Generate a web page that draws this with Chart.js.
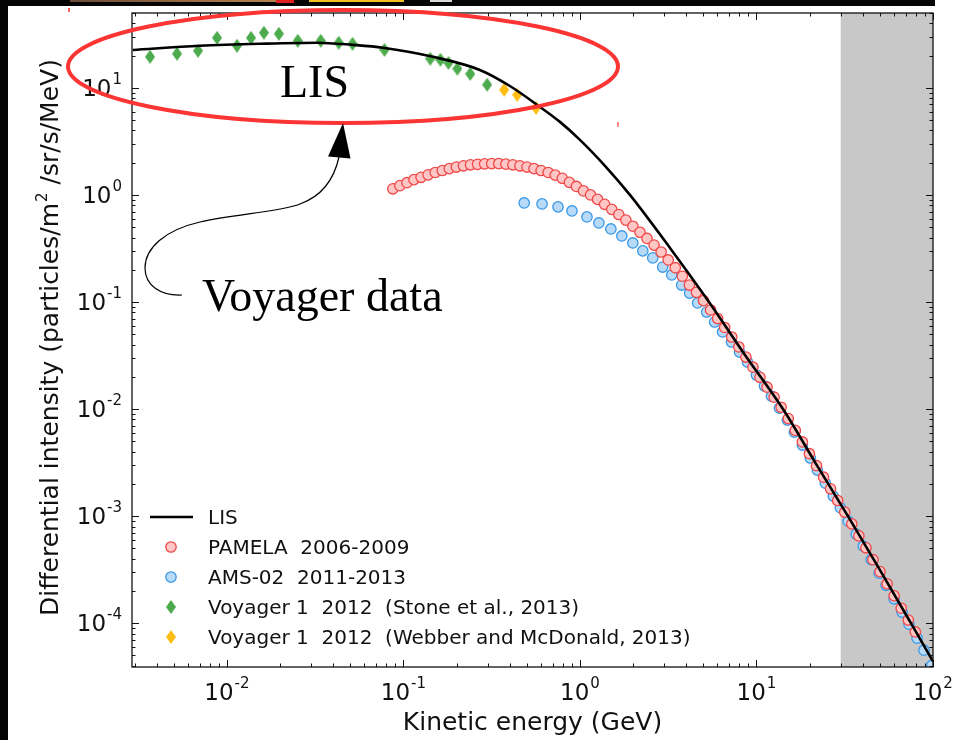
<!DOCTYPE html>
<html>
<head>
<meta charset="utf-8">
<script src="https://cdn.jsdelivr.net/npm/chart.js@4.4.1/dist/chart.umd.min.js"></script>
<style>
html, body { margin: 0; padding: 0; background: #fff; }
#wrap { width: 961px; height: 740px; position: relative; }
</style>
</head>
<body>
<div id="wrap"><canvas id="fluxChart" width="961" height="740"></canvas></div>
<script>
// colours
const _RED_EDGE = '#f04848';
const _RED_FILL = '#ffc6c6';
const _BLUE_EDGE = '#3a98e6';
const _BLUE_FILL = '#b6daf7';
const _GREEN = '#4cab4c';
const _YELLOW = '#fdbd12';
const SANS = '"DejaVu Sans", sans-serif';
const SERIF = '"Liberation Serif", serif';

// LIS model curve (GeV, particles/m2/sr/s/MeV)
const lisEnergy = [0.00293, 0.00703, 0.0154, 0.0324, 0.0517, 0.0766, 0.147, 0.271, 0.401, 0.593,
    0.770, 1.0, 1.386, 1.919, 3.236, 5.383, 8.61, 14.13, 21.44, 32.98,
    50.1, 75.0, 100];
const lisFlux = [22.6, 24.7, 25.8, 26.4, 25.2, 23.7, 19.5, 14.7, 10.4, 6.64,
    4.81, 3.27, 1.87, 1.00, 0.320, 0.100, 0.0320, 0.0100, 0.00320, 0.00100,
    0.000313, 0.000100, 0.0000441];

// PAMELA 2006-2009
const pamelaEnergy = [0.0871, 0.0955, 0.1047, 0.1148, 0.1259, 0.1380, 0.1514, 0.1660, 0.1820, 0.1995,
    0.2188, 0.2399, 0.2630, 0.2884, 0.3162, 0.3467, 0.3802, 0.4169, 0.4571, 0.5012,
    0.5495, 0.6026, 0.6607, 0.7244, 0.7943, 0.8710, 0.9550, 1.047, 1.148, 1.259,
    1.380, 1.514, 1.660, 1.820, 1.995, 2.188, 2.399, 2.630, 2.884, 3.162,
    3.467, 3.802, 4.169, 4.571, 5.012, 5.495, 6.026, 6.607, 7.244, 7.943,
    8.710, 9.550, 10.47, 11.48, 12.59, 13.80, 15.14, 16.60, 18.20, 19.95,
    21.88, 23.99, 26.30, 28.84, 31.62, 34.67, 38.02, 41.69, 45.71, 50.12,
    54.95, 60.26, 66.07, 72.44, 79.43];
const pamelaFlux = [1.14, 1.22, 1.30, 1.39, 1.46, 1.54, 1.62, 1.69, 1.76, 1.82,
    1.87, 1.91, 1.93, 1.95, 1.96, 1.96, 1.94, 1.91, 1.87, 1.82,
    1.76, 1.69, 1.62, 1.53, 1.43, 1.31, 1.20, 1.09, 1.00, 0.908,
    0.817, 0.733, 0.656, 0.582, 0.510, 0.448, 0.392, 0.340, 0.293, 0.247,
    0.209, 0.174, 0.144, 0.123, 0.103, 0.0842, 0.0701, 0.0578, 0.0471, 0.0380,
    0.0306, 0.0246, 0.0198, 0.0160, 0.0129, 0.0104, 0.00815, 0.00632, 0.00493, 0.00383,
    0.00296, 0.00231, 0.00180, 0.00140, 0.00109, 0.000847, 0.000654, 0.000506, 0.000392, 0.000303,
    0.000233, 0.000180, 0.000138, 0.000107, 0.0000829];

// AMS-02 2011-2013
const amsEnergy = [0.483, 0.610, 0.751, 0.901, 1.096, 1.280, 1.497, 1.727, 1.992, 2.270,
    2.584, 2.942, 3.311, 3.770, 4.182, 4.641, 5.220, 5.792, 6.427, 7.225,
    8.017, 8.896, 10.0, 11.10, 12.16, 13.49, 14.97, 16.40, 18.20, 20.19,
    22.13, 24.55, 27.23, 29.84, 33.11, 36.73, 40.25, 44.67, 49.55, 54.2,
    60.2, 66.8, 73.1, 81.3, 88.9, 98.7];
const amsFlux = [0.841, 0.824, 0.773, 0.708, 0.623, 0.547, 0.481, 0.414, 0.356, 0.300,
    0.258, 0.212, 0.179, 0.144, 0.121, 0.0979, 0.0806, 0.0650, 0.0525, 0.0423,
    0.0341, 0.0275, 0.0208, 0.0164, 0.0132, 0.0102, 0.00789, 0.00609, 0.00461, 0.00349,
    0.00269, 0.00203, 0.00154, 0.00120, 0.000897, 0.000679, 0.000525, 0.000392, 0.000293, 0.000226,
    0.000169, 0.000127, 0.0000979, 0.0000724, 0.0000560, 0.0000405];

// Voyager 1 2012
const stoneEnergy = [0.00367, 0.00522, 0.00686, 0.00879, 0.0114, 0.0137, 0.0162, 0.0197, 0.0252, 0.0340,
    0.0430, 0.0515, 0.0781, 0.142, 0.162, 0.180, 0.202, 0.239, 0.298];
const stoneFlux = [19.5, 20.8, 22.2, 29.3, 24.7, 29.3, 32.7, 32.0, 27.5, 27.5,
    26.4, 25.8, 22.6, 18.7, 18.3, 17.1, 15.1, 13.5, 10.7];
const webberEnergy = [0.372, 0.441, 0.564];
const webberFlux = [9.58, 8.60, 6.50];

// axis settings
const xRange = [0.0029, 100];
const yRange = [3.9e-5, 50];
const xTickExponents = [-2, -1, 0, 1, 2];
const yTickExponents = [-4, -3, -2, -1, 0, 1];
const shadeRange = [30, 100];

function toPoints(xs, ys) {
    return xs.map((x, i) => ({ x: x, y: ys[i] }));
}

// thin diamond marker, drawn once to a small canvas
function makeDiamond(color) {
    const c = document.createElement('canvas');
    c.width = 10;
    c.height = 14;
    const g = c.getContext('2d');
    g.fillStyle = color;
    g.beginPath();
    g.moveTo(5, 0);
    g.lineTo(10, 7);
    g.lineTo(5, 14);
    g.lineTo(0, 7);
    g.closePath();
    g.fill();
    return c;
}
const greenDiamond = makeDiamond(_GREEN);
const yellowDiamond = makeDiamond(_YELLOW);

function powerLabel(ctx, exp, x, y, align) {
    const base = '10';
    const sup = String(exp);
    ctx.font = '23px ' + SANS;
    const wb = ctx.measureText(base).width;
    ctx.font = '15px ' + SANS;
    const ws = ctx.measureText(sup).width;
    const total = wb + ws + 1;
    const left = align === 'right' ? x - total : x - total / 2;
    ctx.textAlign = 'left';
    ctx.textBaseline = 'alphabetic';
    ctx.font = '23px ' + SANS;
    ctx.fillText(base, left, y);
    ctx.font = '15px ' + SANS;
    ctx.fillText(sup, left + wb + 1, y - 12);
}

function seg(ctx, x1, y1, x2, y2) {
    ctx.beginPath();
    ctx.moveTo(x1, y1);
    ctx.lineTo(x2, y2);
    ctx.stroke();
}

const decorPlugin = {
    id: 'decor',
    beforeDraw(chart) {
        const ctx = chart.ctx;
        ctx.save();
        ctx.fillStyle = '#fff';
        ctx.fillRect(0, 0, chart.width, chart.height);
        // slide edges around the figure
        ctx.fillStyle = '#050505';
        ctx.fillRect(0, 0, 935, 6);
        ctx.fillRect(0, 0, 8, chart.height);
        const grad = ctx.createLinearGradient(70, 0, 280, 0);
        grad.addColorStop(0, '#6b4a36');
        grad.addColorStop(1, '#b8844e');
        ctx.fillStyle = grad;
        ctx.fillRect(70, 0, 206, 2);
        ctx.fillStyle = '#e02020';
        ctx.fillRect(276, 0, 18, 3);
        ctx.fillStyle = '#f0c020';
        ctx.fillRect(309, 0, 95, 2);
        ctx.fillStyle = '#d8d8d8';
        ctx.fillRect(430, 0, 22, 2);
        ctx.fillStyle = '#ff6060';
        ctx.fillRect(68, 8, 2, 4);
        ctx.restore();
    },
    beforeDatasetsDraw(chart) {
        const ctx = chart.ctx;
        const a = chart.chartArea;
        const xs = chart.scales.x;
        const x0 = xs.getPixelForValue(shadeRange[0]);
        const x1 = xs.getPixelForValue(shadeRange[1]);
        ctx.save();
        ctx.fillStyle = '#c8c8c8';
        ctx.fillRect(x0, a.top, x1 - x0, a.bottom - a.top);
        ctx.restore();
    },
    afterDatasetsDraw(chart) {
        const ctx = chart.ctx;
        const a = chart.chartArea;
        const xs = chart.scales.x;
        const ys = chart.scales.y;
        ctx.save();

        // frame
        ctx.strokeStyle = '#111';
        ctx.lineWidth = 1.3;
        ctx.strokeRect(a.left, a.top, a.right - a.left, a.bottom - a.top);

        // inward ticks on all four sides
        ctx.lineWidth = 1;
        for (let e = -3; e <= 2; e++) {
            for (let m = 1; m <= 9; m++) {
                const v = m * Math.pow(10, e);
                if (v < xRange[0] || v > xRange[1]) continue;
                const px = Math.round(xs.getPixelForValue(v)) + 0.5;
                const len = m === 1 ? 7 : 3.5;
                seg(ctx, px, a.bottom, px, a.bottom - len);
                seg(ctx, px, a.top, px, a.top + len);
            }
        }
        for (let e = -5; e <= 1; e++) {
            for (let m = 1; m <= 9; m++) {
                const v = m * Math.pow(10, e);
                if (v < yRange[0] || v > yRange[1]) continue;
                const py = Math.round(ys.getPixelForValue(v)) + 0.5;
                const len = m === 1 ? 7 : 3.5;
                seg(ctx, a.left, py, a.left + len, py);
                seg(ctx, a.right, py, a.right - len, py);
            }
        }

        // tick labels
        ctx.fillStyle = '#111';
        xTickExponents.forEach(e => {
            powerLabel(ctx, e, xs.getPixelForValue(Math.pow(10, e)), 700, 'center');
        });
        yTickExponents.forEach(e => {
            powerLabel(ctx, e, 122, ys.getPixelForValue(Math.pow(10, e)) + 8, 'right');
        });

        // axis titles
        ctx.font = '25px ' + SANS;
        ctx.textAlign = 'center';
        ctx.textBaseline = 'alphabetic';
        ctx.fillText('Kinetic energy (GeV)', (a.left + a.right) / 2, 730);

        ctx.save();
        ctx.translate(58, 338);
        ctx.rotate(-Math.PI / 2);
        ctx.textAlign = 'left';
        const p1 = 'Differential intensity (particles/m';
        const p2 = '2';
        const p3 = ' /sr/s/MeV)';
        ctx.font = '25px ' + SANS;
        const w1 = ctx.measureText(p1).width;
        const w3 = ctx.measureText(p3).width;
        ctx.font = '15px ' + SANS;
        const w2 = ctx.measureText(p2).width;
        let tx = -(w1 + w2 + w3) / 2;
        ctx.font = '25px ' + SANS;
        ctx.fillText(p1, tx, 0);
        ctx.font = '15px ' + SANS;
        ctx.fillText(p2, tx + w1 + 1, -11);
        ctx.font = '25px ' + SANS;
        ctx.fillText(p3, tx + w1 + w2 + 1, 0);
        ctx.restore();

        // legend
        const ds = chart.data.datasets;
        const rowY = [517, 547, 577, 607, 637];
        ctx.font = '20px ' + SANS;
        ctx.textAlign = 'left';
        ctx.fillStyle = '#111';
        ds.forEach((d, i) => {
            const y = rowY[i];
            if (i === 0) {
                ctx.strokeStyle = '#000';
                ctx.lineWidth = 2.6;
                seg(ctx, 150, y, 193, y);
            } else if (d.pointStyle === 'circle') {
                ctx.beginPath();
                ctx.arc(171, y, 5.2, 0, Math.PI * 2);
                ctx.fillStyle = d.backgroundColor;
                ctx.fill();
                ctx.strokeStyle = d.borderColor;
                ctx.lineWidth = 1.3;
                ctx.stroke();
            } else {
                ctx.drawImage(d.pointStyle, 166, y - 7);
            }
            ctx.fillStyle = '#111';
            ctx.fillText(d.label, 208, y + 7);
        });

        // slide annotations: red ellipse, labels and arrow
        ctx.strokeStyle = '#fb3434';
        ctx.lineWidth = 4;
        ctx.beginPath();
        ctx.ellipse(343, 66.5, 275, 56.5, 0, 0, Math.PI * 2);
        ctx.stroke();
        ctx.fillStyle = '#ff8c8c';
        ctx.fillRect(617, 122, 2, 5);

        ctx.fillStyle = '#000';
        ctx.font = '46px ' + SERIF;
        ctx.fillText('LIS', 280, 97);
        ctx.fillText('Voyager data', 202, 311);

        ctx.strokeStyle = '#000';
        ctx.lineWidth = 1.2;
        ctx.beginPath();
        ctx.moveTo(182, 295);
        ctx.bezierCurveTo(160, 296, 145, 285, 145, 268);
        ctx.bezierCurveTo(145, 248, 165, 230, 200, 222);
        ctx.bezierCurveTo(235, 214, 280, 212, 300, 204);
        ctx.bezierCurveTo(325, 195, 335, 175, 339, 157);
        ctx.stroke();
        ctx.beginPath();
        ctx.moveTo(328, 156.5);
        ctx.lineTo(350.5, 158.5);
        ctx.lineTo(343, 123);
        ctx.closePath();
        ctx.fill();

        ctx.restore();
    }
};

const ctx = document.getElementById('fluxChart').getContext('2d');
const fluxChart = new Chart(ctx, {
    type: 'scatter',
    data: {
        datasets: [{
            label: 'LIS',
            type: 'line',
            data: toPoints(lisEnergy, lisFlux),
            borderColor: '#000',
            borderWidth: 2.6,
            pointRadius: 0,
            cubicInterpolationMode: 'monotone',
            fill: false
        }, {
            label: 'PAMELA  2006-2009',
            data: toPoints(pamelaEnergy, pamelaFlux),
            pointStyle: 'circle',
            pointRadius: 5.2,
            borderWidth: 1.3,
            borderColor: _RED_EDGE,
            backgroundColor: _RED_FILL
        }, {
            label: 'AMS-02  2011-2013',
            data: toPoints(amsEnergy, amsFlux),
            pointStyle: 'circle',
            pointRadius: 5.2,
            borderWidth: 1.3,
            borderColor: _BLUE_EDGE,
            backgroundColor: _BLUE_FILL
        }, {
            label: 'Voyager 1  2012  (Stone et al., 2013)',
            data: toPoints(stoneEnergy, stoneFlux),
            pointStyle: greenDiamond,
            borderColor: _GREEN,
            backgroundColor: _GREEN
        }, {
            label: 'Voyager 1  2012  (Webber and McDonald, 2013)',
            data: toPoints(webberEnergy, webberFlux),
            pointStyle: yellowDiamond,
            borderColor: _YELLOW,
            backgroundColor: _YELLOW
        }]
    },
    options: {
        responsive: false,
        animation: false,
        devicePixelRatio: 1,
        events: [],
        layout: {
            padding: { left: 132, top: 13, right: 28, bottom: 73 }
        },
        plugins: {
            legend: { display: false },
            tooltip: { enabled: false }
        },
        scales: {
            x: { type: 'logarithmic', min: xRange[0], max: xRange[1], display: false },
            y: { type: 'logarithmic', min: yRange[0], max: yRange[1], display: false }
        }
    },
    plugins: [decorPlugin]
});
</script>
</body>
</html>
